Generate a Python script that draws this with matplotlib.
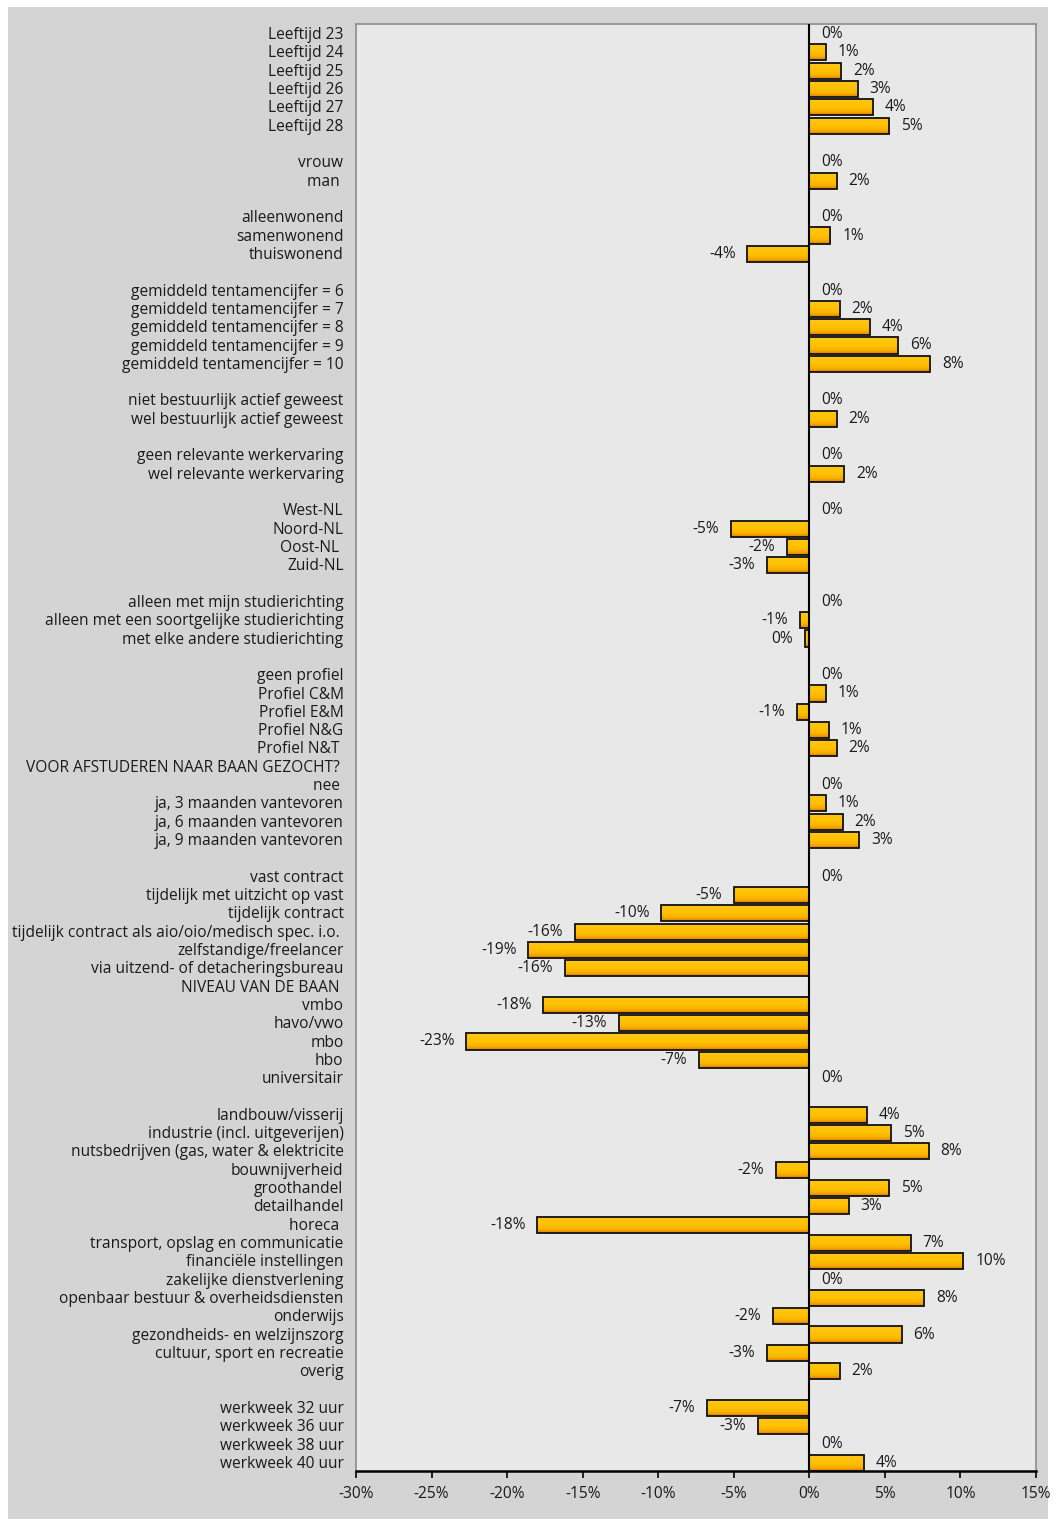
import matplotlib
matplotlib.use("Agg")
import matplotlib.pyplot as plt
import numpy as np
from matplotlib.patches import Rectangle
from matplotlib.colors import LinearSegmentedColormap
from matplotlib.ticker import FuncFormatter

plt.rcParams['font.family'] = ['Open Sans', 'DejaVu Sans']
FS = 11.2

labels = [
    "Leeftijd 23", "Leeftijd 24", "Leeftijd 25", "Leeftijd 26", "Leeftijd 27", "Leeftijd 28",
    "",
    "vrouw", "man ",
    "",
    "alleenwonend", "samenwonend", "thuiswonend",
    "",
    "gemiddeld tentamencijfer = 6", "gemiddeld tentamencijfer = 7", "gemiddeld tentamencijfer = 8",
    "gemiddeld tentamencijfer = 9", "gemiddeld tentamencijfer = 10",
    "",
    "niet bestuurlijk actief geweest", "wel bestuurlijk actief geweest",
    "",
    "geen relevante werkervaring", "wel relevante werkervaring",
    "",
    "West-NL", "Noord-NL", "Oost-NL ", "Zuid-NL",
    "",
    "alleen met mijn studierichting", "alleen met een soortgelijke studierichting",
    "met elke andere studierichting",
    "",
    "geen profiel", "Profiel C&M", "Profiel E&M", "Profiel N&G", "Profiel N&T ",
    "VOOR AFSTUDEREN NAAR BAAN GEZOCHT? ",
    "nee ", "ja, 3 maanden vantevoren", "ja, 6 maanden vantevoren", "ja, 9 maanden vantevoren",
    "",
    "vast contract", "tijdelijk met uitzicht op vast", "tijdelijk contract",
    "tijdelijk contract als aio/oio/medisch spec. i.o. ", "zelfstandige/freelancer",
    "via uitzend- of detacheringsbureau",
    "NIVEAU VAN DE BAAN ",
    "vmbo", "havo/vwo", "mbo", "hbo", "universitair",
    "",
    "landbouw/visserij", "industrie (incl. uitgeverijen)", "nutsbedrijven (gas, water & elektricite",
    "bouwnijverheid", "groothandel", "detailhandel", "horeca ", "transport, opslag en communicatie",
    "financiële instellingen", "zakelijke dienstverlening", "openbaar bestuur & overheidsdiensten",
    "onderwijs", "gezondheids- en welzijnszorg", "cultuur, sport en recreatie", "overig",
    "",
    "werkweek 32 uur", "werkweek 36 uur", "werkweek 38 uur", "werkweek 40 uur",
]

# values in percent; None = no bar and no data label
values = [
    0.0, 1.1, 2.1, 3.2, 4.2, 5.3,
    None,
    0.0, 1.8,
    None,
    0.0, 1.4, -4.1,
    None,
    0.0, 2.0, 4.0, 5.9, 8.0,
    None,
    0.0, 1.8,
    None,
    0.0, 2.3,
    None,
    0.0, -5.2, -1.5, -2.8,
    None,
    0.0, -0.6, -0.3,
    None,
    0.0, 1.1, -0.8, 1.3, 1.8,
    None,
    0.0, 1.1, 2.2, 3.3,
    None,
    0.0, -5.0, -9.8, -15.5, -18.6, -16.2,
    None,
    -17.6, -12.6, -22.7, -7.3, 0.0,
    None,
    3.8, 5.4, 7.9, -2.2, 5.3, 2.6, -18.0, 6.7, 10.2, 0.0, 7.6, -2.4, 6.1, -2.8, 2.0,
    None,
    -6.8, -3.4, 0.0, 3.6,
]

xticks = [-30, -25, -20, -15, -10, -5, 0, 5, 10, 15]

W, H = 1056, 1526
fig = plt.figure(figsize=(W / 100, H / 100), dpi=100, facecolor='white')
fig.patches.append(Rectangle((8 / W, 1 - 1519 / H), 1040 / W, 1512 / H,
                             transform=fig.transFigure, facecolor='#d4d4d4',
                             edgecolor='none', zorder=-10))

ax = fig.add_axes([356 / W, 1 - 1471 / H, 680 / W, (1471 - 24) / H])
ax.set_zorder(5)
ax.set_facecolor('#e8e8e8')

n = len(labels)
ypos = np.arange(n)
bar_off = 0.05
bar_h = 0.88

cmap = LinearSegmentedColormap.from_list('g', [(0.0, '#FFC719'), (0.55, '#FFC000'),
                                               (0.8, '#F8AE00'), (1.0, '#E07A00')])
grad = np.linspace(0, 1, 64).reshape(-1, 1)

for i, v in enumerate(values):
    if v is None or v == 0:
        continue
    y = i + bar_off
    x0, x1 = min(0, v), max(0, v)
    base = ax.barh(y, v, height=bar_h, color='#FFC000', edgecolor='none', zorder=2)[0]
    im = ax.imshow(grad, cmap=cmap, aspect='auto', interpolation='bilinear',
                   extent=(x0, x1, y + bar_h / 2, y - bar_h / 2), zorder=2.5)
    im.set_clip_path(base)
    ax.barh(y, v, height=bar_h, facecolor='none', edgecolor='#111111', linewidth=1.3, zorder=3)

for i, v in enumerate(values):
    if v is None:
        continue
    r = int(round(v))
    txt = f"{r}%"
    y = i + bar_off
    if v < 0:
        ax.annotate(txt, (v, y), xytext=(-8.5, 0), textcoords='offset points',
                    ha='right', va='center', fontsize=FS, color='#1a1a1a', zorder=4)
    else:
        ax.annotate(txt, (v, y), xytext=(8.5, 0), textcoords='offset points',
                    ha='left', va='center', fontsize=FS, color='#1a1a1a', zorder=4)

ax.axvline(0, color='black', linewidth=1.5, zorder=3.5)

ax.set_xlim(-30, 15)
ax.set_ylim(n - 0.5, -0.5)
ax.set_xticks(xticks)
ax.xaxis.set_major_formatter(FuncFormatter(lambda x, p: f"{int(x)}%"))
ax.set_yticks(ypos)
ax.set_yticklabels(labels)
ax.tick_params(axis='y', length=0, pad=9, labelsize=FS, labelcolor='#1a1a1a')
ax.tick_params(axis='x', direction='out', length=5, width=1.2, pad=6,
               labelsize=FS, labelcolor='#1a1a1a', color='black')

for s in ['left', 'top', 'right']:
    ax.spines[s].set_color('#8c8c8c')
    ax.spines[s].set_linewidth(1.2)
ax.spines['bottom'].set_color('black')
ax.spines['bottom'].set_linewidth(1.8)

fig.savefig('out.png', dpi=100, facecolor='white')
